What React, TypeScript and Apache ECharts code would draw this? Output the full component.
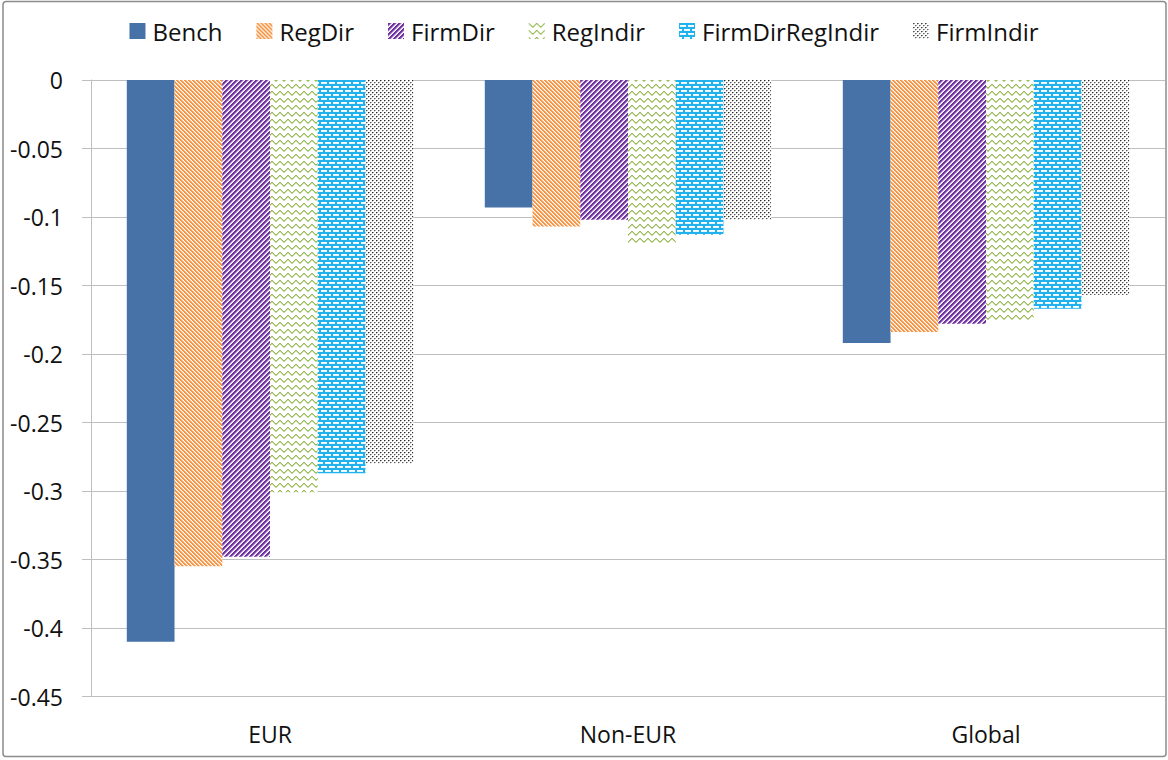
import React, { useEffect, useRef } from "react";
import * as echarts from "echarts";

const categories = ["EUR", "Non-EUR", "Global"];
const seriesNames = ["Bench", "RegDir", "FirmDir", "RegIndir", "FirmDirRegIndir", "FirmIndir"];
const bench = [-0.41, -0.093, -0.192];
const regDir = [-0.355, -0.107, -0.184];
const firmDir = [-0.348, -0.102, -0.178];
const regIndir = [-0.301, -0.12, -0.176];
const firmDirRegIndir = [-0.287, -0.113, -0.167];
const firmIndir = [-0.28, -0.102, -0.157];
const yTicks = [0, -0.05, -0.1, -0.15, -0.2, -0.25, -0.3, -0.35, -0.4, -0.45];

const FONT = "'Open Sans', sans-serif";

function tile(w: number, h: number, bg: string | null, draw: (px: (x: number, y: number, c: string) => void) => void) {
  const c = document.createElement("canvas");
  c.width = w;
  c.height = h;
  const ctx = c.getContext("2d")!;
  if (bg) {
    ctx.fillStyle = bg;
    ctx.fillRect(0, 0, w, h);
  }
  const px = (x: number, y: number, col: string) => {
    ctx.fillStyle = col;
    ctx.fillRect(((x % w) + w) % w, ((y % h) + h) % h, 1, 1);
  };
  draw(px);
  return c;
}

function makePatterns() {
  const orange = tile(4, 4, "#ffffff", (px) => {
    for (let y = 0; y < 4; y++)
      for (let x = 0; x < 4; x++) {
        const d = (((x - y) % 4) + 4) % 4;
        if (d < 2) px(x, y, "#F79646");
        else if (d === 2) px(x, y, "#fbcaa3");
      }
  });
  const purple = tile(5, 5, "#ffffff", (px) => {
    for (let y = 0; y < 5; y++)
      for (let x = 0; x < 5; x++) {
        const d = (x + y) % 5;
        if (d < 2) px(x, y, "#7030A0");
        else if (d === 2) px(x, y, "#9466bb");
        else if (d === 3) px(x, y, "#d9c8e7");
      }
  });
  const green = tile(8, 7, "#ffffff", (px) => {
    const tri = [0, 1, 2, 3, 3, 2, 1, 0];
    for (let x = 0; x < 8; x++) {
      px(x, tri[x], "#9BBB59");
      px(x, tri[x] + 1, "#c6d9a0");
    }
  });
  const brick = tile(8, 8, "#1FB2EE", (px) => {
    for (let x = 1; x <= 6; x++) {
      px(x, 2, "#ffffff");
      px(x, 3, "#e6f6fd");
    }
    for (let x = 5; x <= 10; x++) {
      px(x, 6, "#ffffff");
      px(x, 7, "#e6f6fd");
    }
  });
  const dots = tile(4, 4, "#ffffff", (px) => {
    px(0, 0, "#2a2a2a");
    px(2, 2, "#555555");
    px(1, 0, "#9a9a9a");
    px(3, 2, "#b0b0b0");
    px(0, 1, "#c4c4c4");
    px(2, 3, "#d0d0d0");
  });
  const pat = (c: HTMLCanvasElement) => ({ image: c, repeat: "repeat" as const });
  return ["#4672A8", pat(orange), pat(purple), pat(green), pat(brick), pat(dots)];
}

export default function App() {
  const ref = useRef<HTMLDivElement>(null);
  useEffect(() => {
    if (!ref.current) return;
    const chart = echarts.init(ref.current, undefined, { renderer: "svg" });
    const colors = makePatterns();
    const values = [bench, regDir, firmDir, regIndir, firmDirRegIndir, firmIndir];
    chart.setOption({
      animation: false,
      backgroundColor: "#ffffff",
      textStyle: { fontFamily: FONT },
      legend: {
        top: 14,
        left: "center",
        itemWidth: 16,
        itemHeight: 16,
        itemGap: 34,
        icon: "rect",
        textStyle: { fontFamily: FONT, fontSize: 24, color: "#111111", padding: [0, 0, 0, 2] },
        data: seriesNames,
      },
      grid: { left: 91, right: 3, top: 80, bottom: 63.5, containLabel: false },
      xAxis: {
        type: "category",
        data: categories,
        position: "bottom",
        axisLine: { show: false },
        axisTick: { show: false },
        axisLabel: { fontFamily: FONT, fontSize: 23, color: "#111111", margin: 26 },
      },
      yAxis: {
        type: "value",
        min: -0.45,
        max: 0,
        interval: 0.05,
        axisLine: { show: true, lineStyle: { color: "#bfbfbf", width: 1 } },
        axisTick: { show: true, length: 9, lineStyle: { color: "#bfbfbf" } },
        splitLine: { show: true, lineStyle: { color: "#bfbfbf", width: 1 } },
        axisLabel: {
          fontFamily: FONT,
          fontSize: 23,
          color: "#111111",
          margin: 28,
          formatter: (v: number) => {
            const r = Math.round(v * 100) / 100;
            const hit = yTicks.find((t) => Math.abs(t - r) < 1e-9);
            const val = hit === undefined ? r : hit;
            return val === 0 ? "0" : String(val);
          },
        },
      },
      graphic: [
        {
          type: "rect",
          shape: { x: 3, y: 1.5, width: 1163, height: 755, r: 3 },
          style: { fill: "none", stroke: "#8c8c8c", lineWidth: 1.5 },
          silent: true,
          z: 100,
        },
      ],
      series: seriesNames.map((name, i) => ({
        name,
        type: "bar",
        data: values[i],
        barGap: "0%",
        barCategoryGap: "20%",
        itemStyle: { color: colors[i] },
      })),
    });
    return () => chart.dispose();
  }, []);
  return <div ref={ref} style={{ position: "fixed", left: 0, top: 0, width: 1168, height: 760 }} />;
}
